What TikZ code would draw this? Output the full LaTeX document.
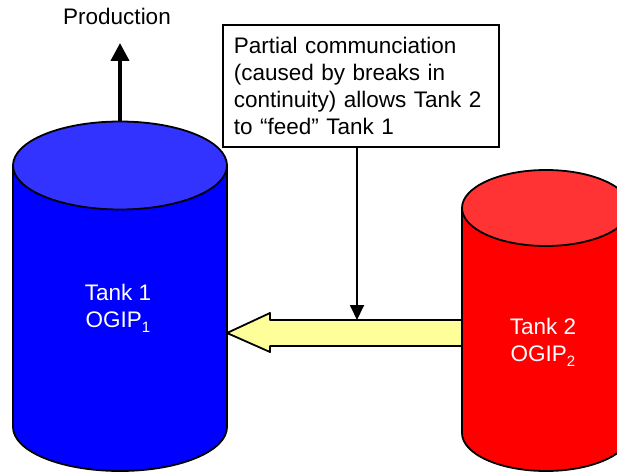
\documentclass[tikz,border=0pt]{standalone}
\usepackage{fontspec}
\setmainfont{Liberation Sans}
\usetikzlibrary{arrows.meta}
\definecolor{tankblue}{HTML}{0000FF}
\definecolor{tankbluetop}{HTML}{3333FF}
\definecolor{tankred}{HTML}{FF0000}
\definecolor{tankredtop}{HTML}{FF3333}
\definecolor{flowyellow}{HTML}{FFFF99}
\newcommand{\lowsub}[1]{\raisebox{-0.22em}{\fontsize{15}{15}\selectfont #1}}
\tikzset{
  outline/.style={draw=black, line width=1.8pt, line join=round},
  bigtext/.style={font=\fontsize{22.5}{27}\selectfont},
  tanklabel/.style={bigtext, text=white, align=center, inner sep=0pt},
  notebox/.style={draw=black, line width=1.8pt, bigtext, align=left, text width=254pt,
    inner xsep=11pt, inner ysep=0pt, minimum height=122pt, anchor=north west},
  prodarrow/.style={line width=4pt, -{Triangle[width=18pt,length=18pt]}},
  thinarrow/.style={line width=1.8pt, -{Triangle[width=14pt,length=15pt]}}
}
\begin{document}
\begin{tikzpicture}[x=1pt,y=1pt]
\useasboundingbox (0,0) rectangle (617,472);
\clip (0,0) rectangle (617,472);
% Tank 1
\path[outline, fill=tankblue] (13,306.5) -- (13,45)
  arc[start angle=180, end angle=360, x radius=107pt, y radius=44pt] -- (227,306.5) -- cycle;
\path[outline, fill=tankbluetop] (120,306.5) ellipse [x radius=107pt, y radius=44pt];
\coordinate (t1top) at (120,350.5);
\node[tanklabel] (t1label) at (118,164) {Tank 1\\OGIP\lowsub{1}};
% block arrow
\path[outline, line width=1.8pt, fill=flowyellow] (464,152) -- (270,152) -- (270,159) -- (227,139)
  -- (270,120) -- (270,126) -- (464,126) -- cycle;
\coordinate (flowtop) at (357,152);
% Tank 2
\path[outline, fill=tankred] (462,264) -- (462,39)
  arc[start angle=180, end angle=360, x radius=84pt, y radius=38pt] -- (630,264) -- cycle;
\path[outline, fill=tankredtop] (546,264) ellipse [x radius=84pt, y radius=38pt];
\node[tanklabel] (t2label) at (543,130) {Tank 2\\OGIP\lowsub{2}};
% Production
\coordinate (prodend) at (120,429);
\draw[prodarrow] (t1top) -- (prodend);
\node[bigtext, anchor=base] (prod) at (117,447) {Production};
% note box
\node[notebox] (note) at (222,448) {Partial communciation (caused by breaks in continuity) allows Tank 2 to “feed” Tank 1};
\draw[thinarrow] (note.south -| flowtop) -- (flowtop);
\end{tikzpicture}
\end{document}
